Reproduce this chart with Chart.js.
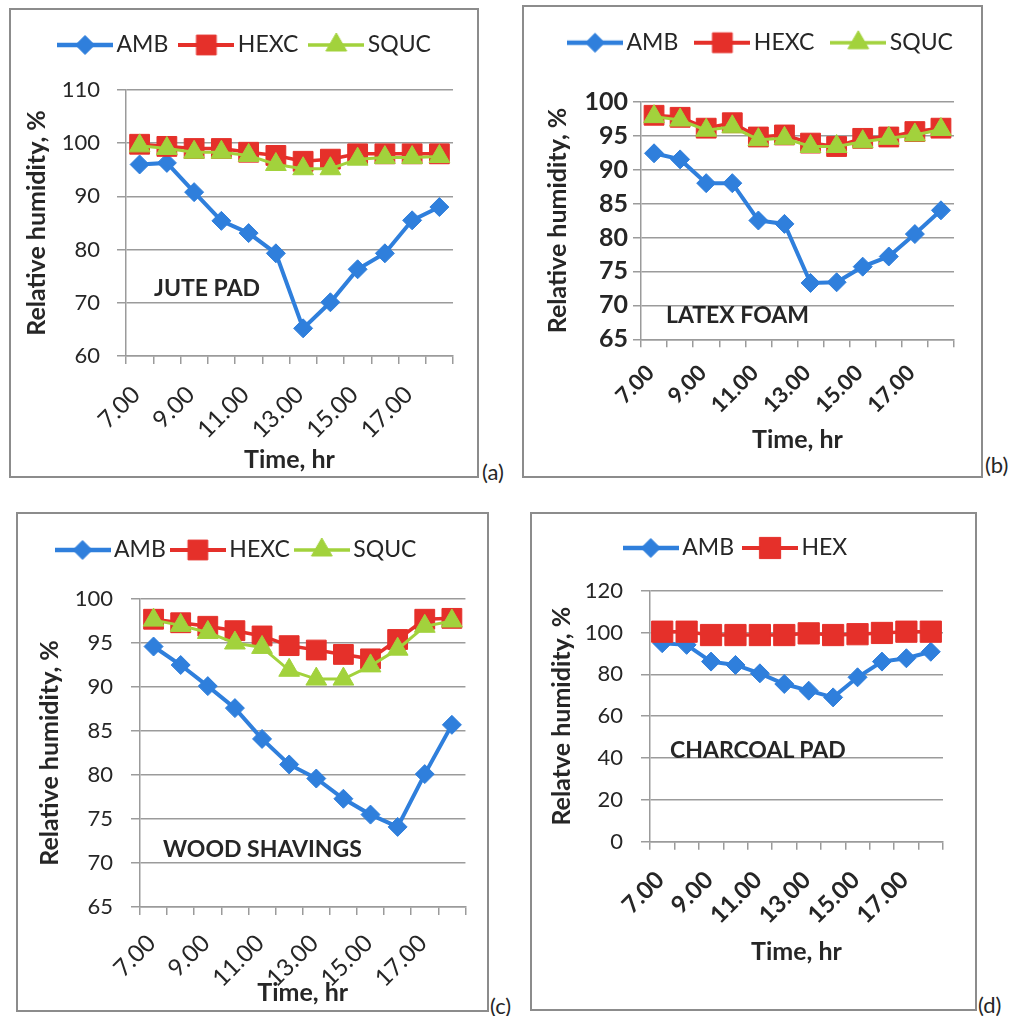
<!DOCTYPE html>
<html>
<head>
<meta charset="utf-8">
<script src="https://cdn.jsdelivr.net/npm/chart.js"></script>
<style>
  body { margin: 0; background: #fff; width: 1012px; height: 1016px; position: relative; overflow: hidden; font-family: Lato, sans-serif; color: #262626; }
  .panel { position: absolute; border: 2px solid #8c8c8c; box-sizing: border-box; background: #fff; }
  .panel canvas { position: absolute; left: 0; top: 0; }
  .note { position: absolute; font-weight: bold; white-space: nowrap; line-height: 1; }
  .tag { position: absolute; font-size: 22px; line-height: 1; white-space: nowrap; }
</style>
</head>
<body>
<script>
Chart.defaults.font.family = 'Lato, "Open Sans", sans-serif'
Chart.defaults.color = '#262626'

const hours = ['7.00', '8.00', '9.00', '10.00', '11.00', '12.00', '13.00', '14.00', '15.00', '16.00', '17.00', '18.00']

// (a) jute pad
const juteAMB = [96, 96.3, 90.8, 85.4, 83.1, 79.3, 65.2, 70.1, 76.3, 79.3, 85.5, 88]
const juteHEXC = [99.8, 99.4, 99, 99, 98.3, 97.7, 96.6, 97, 98, 98, 98, 98]
const juteSQUC = [99.5, 99, 98.3, 98.3, 97.7, 96, 95.2, 95.2, 97, 97.3, 97.3, 97.5]
const juteY = [60, 110, 10]

// (b) latex foam
const latexAMB = [92.4, 91.5, 88, 88, 82.5, 82, 73.3, 73.4, 75.7, 77.2, 80.5, 84]
const latexHEXC = [98, 97.7, 96.1, 96.9, 94.8, 95.1, 93.9, 93.4, 94.6, 94.8, 95.6, 96.1]
const latexSQUC = [97.8, 97.3, 95.8, 96.3, 94.4, 94.6, 93.4, 93.4, 94.1, 94.6, 95.1, 95.9]
const latexY = [65, 100, 5]

// (c) wood shavings
const woodAMB = [94.6, 92.5, 90.1, 87.6, 84.1, 81.2, 79.6, 77.3, 75.5, 74.1, 80.1, 85.7]
const woodHEXC = [97.7, 97.3, 96.9, 96.4, 95.8, 94.7, 94.2, 93.7, 93.2, 95.4, 97.7, 97.8]
const woodSQUC = [97.6, 97, 96.2, 95, 94.5, 91.9, 90.9, 90.9, 92.4, 94.3, 96.9, 97.5]
const woodY = [65, 100, 5]

// (d) charcoal pad
const charcoalAMB = [94.9, 94.1, 86.1, 84.5, 80.5, 75.4, 72.2, 69, 78.6, 86.1, 87.7, 90.8]
const charcoalHEX = [100.4, 100.4, 98.8, 98.8, 98.8, 98.8, 99.6, 98.8, 99.2, 99.8, 100.4, 100.4]
const charcoalY = [0, 120, 20]

const gridColor = '#9b9b9b'
const textColor = '#262626'
const legendFont = 23

const seriesStyle = {
    AMB: { color: '#2f7fdc', point: 'rectRot', radius: 9.5, line: 4, order: 3 },
    HEXC: { color: '#e5302a', point: 'rect', radius: 14, line: 3.5, order: 2 },
    HEX: { color: '#e5302a', point: 'rect', radius: 15, line: 3.5, order: 2 },
    SQUC: { color: '#a2d23c', point: 'triangle', radius: 12, line: 3, order: 1 }
}

// line + marker picture used as the legend symbol
function legendIcon(style) {
    const c = document.createElement('canvas')
    c.width = 56
    c.height = 30
    const ctx = c.getContext('2d')
    ctx.strokeStyle = style.color
    ctx.lineWidth = style.line + 0.5
    ctx.beginPath()
    ctx.moveTo(0, 15)
    ctx.lineTo(56, 15)
    ctx.stroke()
    ctx.fillStyle = style.color
    ctx.lineWidth = 1
    Chart.helpers.drawPoint(ctx, { pointStyle: style.point, radius: style.radius, borderWidth: 1, rotation: 0 }, 28, 15)
    return c
}

// moves the legend box after layout (horizontal shift, vertical middle of the row)
const legendPlace = {
    id: 'legendPlace',
    afterLayout(chart, args, opts) {
        const lg = chart.legend
        const h = lg.bottom - lg.top
        const top = opts.midY - lg.options.labels.padding - legendFont / 2
        lg.left += opts.dx
        lg.right += opts.dx
        lg.top = top
        lg.bottom = top + h
    }
}

const panels = [
    {
        tag: '(a)', note: 'JUTE PAD', yTitle: 'Relative humidity, %', range: juteY,
        series: [['AMB', juteAMB], ['HEXC', juteHEXC], ['SQUC', juteSQUC]],
        box: [9, 8, 470, 470], yW: 115, xH: 120, padR: 18, areaTop: 80,
        legend: { pad: 18, dx: 13, midY: 35 },
        yTick: { size: 22, weight: 'normal', pad: 17, len: 9 },
        xTick: { size: 24, weight: 'normal', pad: 16.5, shift: -3.5 },
        yTitlePad: 11, xTitlePad: 1,
        notePos: [154, 287, 23], tagPos: [482, 461]
    },
    {
        tag: '(b)', note: 'LATEX FOAM', yTitle: 'Relative humidity, %', range: latexY,
        series: [['AMB', latexAMB], ['HEXC', latexHEXC], ['SQUC', latexSQUC]],
        box: [522, 5, 461, 473], yW: 117, xH: 136.7, padR: 27, areaTop: 94.7,
        legend: { pad: 24, dx: 25, midY: 35.7 },
        yTick: { size: 25, weight: 'bold', pad: 5, len: 8 },
        xTick: { size: 22, weight: 'bold', pad: 12.5, shift: -3.5 },
        yTitlePad: 19, xTitlePad: 21,
        notePos: [666, 314, 23], tagPos: [985, 454]
    },
    {
        tag: '(c)', note: 'WOOD SHAVINGS', yTitle: 'Relative humidity, %', range: woodY,
        series: [['AMB', woodAMB], ['HEXC', woodHEXC], ['SQUC', woodSQUC]],
        box: [16, 512, 473, 500], yW: 122, xH: 103, padR: 18, areaTop: 85,
        legend: { pad: 12, dx: -4, midY: 36 },
        yTick: { size: 22, weight: 'normal', pad: 18, len: 9 },
        xTick: { size: 24, weight: 'normal', pad: 14, shift: -2 },
        yTitlePad: 17, xTitlePad: 2,
        notePos: [163, 848, 23], tagPos: [490, 995]
    },
    {
        tag: '(d)', note: 'CHARCOAL PAD', yTitle: 'Relatve humidity, %', range: charcoalY,
        series: [['AMB', charcoalAMB], ['HEX', charcoalHEX]],
        box: [530, 512, 447, 499], yW: 118, xH: 167.3, padR: 32, areaTop: 76.7,
        legend: { pad: 16, dx: 1.5, midY: 34 },
        yTick: { size: 22, weight: 'normal', pad: 18, len: 9 },
        xTick: { size: 24, weight: 'bold', pad: 16, shift: -2 },
        yTitlePad: 15, xTitlePad: 42,
        notePos: [670, 749, 23], tagPos: [978, 994]
    }
]

function build(p) {
    const wrap = document.createElement('div')
    wrap.className = 'panel'
    wrap.style.left = p.box[0] + 'px'
    wrap.style.top = p.box[1] + 'px'
    wrap.style.width = p.box[2] + 'px'
    wrap.style.height = p.box[3] + 'px'
    const canvas = document.createElement('canvas')
    canvas.width = p.box[2] - 4
    canvas.height = p.box[3] - 4
    wrap.appendChild(canvas)
    document.body.appendChild(wrap)

    const icons = p.series.map(s => legendIcon(seriesStyle[s[0]]))

    new Chart(canvas, {
        type: 'line',
        data: {
            labels: hours,
            datasets: p.series.map(([name, values]) => {
                const st = seriesStyle[name]
                return {
                    label: name,
                    data: values,
                    order: st.order,
                    borderColor: st.color,
                    backgroundColor: st.color,
                    borderWidth: st.line,
                    pointStyle: st.point,
                    pointRadius: st.radius,
                    pointBorderWidth: 1,
                    pointBackgroundColor: st.color,
                    pointBorderColor: st.color,
                    tension: 0,
                    fill: false
                }
            })
        },
        options: {
            responsive: false,
            animation: false,
            events: [],
            layout: {
                padding: { left: 0, right: p.padR, bottom: 0, top: p.areaTop - (legendFont + p.legend.pad + 10) }
            },
            plugins: {
                tooltip: { enabled: false },
                legendPlace: { dx: p.legend.dx, midY: p.legend.midY },
                legend: {
                    position: 'top',
                    labels: {
                        usePointStyle: true,
                        pointStyleWidth: 40,
                        padding: p.legend.pad,
                        color: textColor,
                        font: { size: legendFont },
                        sort: (a, b) => a.datasetIndex - b.datasetIndex,
                        generateLabels(chart) {
                            const items = Chart.defaults.plugins.legend.labels.generateLabels(chart)
                            items.forEach(it => { it.pointStyle = icons[it.datasetIndex] })
                            return items
                        }
                    }
                }
            },
            scales: {
                x: {
                    offset: true,
                    grid: { offset: true, drawOnChartArea: false, drawTicks: true, tickLength: 8, color: gridColor, lineWidth: 1.5 },
                    border: { color: gridColor, width: 1.5 },
                    ticks: {
                        autoSkip: false,
                        maxRotation: 45,
                        minRotation: 45,
                        padding: p.xTick.pad,
                        labelOffset: p.xTick.shift,
                        color: textColor,
                        font: { size: p.xTick.size, weight: p.xTick.weight },
                        callback(value, index) {
                            return index % 2 === 0 ? this.getLabelForValue(value) : ''
                        }
                    },
                    title: {
                        display: true,
                        text: 'Time, hr',
                        color: textColor,
                        font: { size: 25, weight: 'bold', lineHeight: 1.2 },
                        padding: { top: 0, bottom: p.xTitlePad }
                    },
                    afterFit(scale) { scale.height = p.xH }
                },
                y: {
                    min: p.range[0],
                    max: p.range[1],
                    grid: { color: gridColor, lineWidth: 1.5, tickLength: p.yTick.len },
                    border: { color: gridColor, width: 1.5 },
                    ticks: {
                        stepSize: p.range[2],
                        autoSkip: false,
                        padding: p.yTick.pad,
                        color: textColor,
                        font: { size: p.yTick.size, weight: p.yTick.weight }
                    },
                    title: {
                        display: true,
                        text: p.yTitle,
                        color: textColor,
                        font: { size: 25, weight: 'bold', lineHeight: 1.2 },
                        padding: { top: p.yTitlePad, bottom: 0 }
                    },
                    afterFit(scale) { scale.width = p.yW }
                }
            }
        },
        plugins: [legendPlace]
    })

    const note = document.createElement('div')
    note.className = 'note'
    note.textContent = p.note
    note.style.fontSize = p.notePos[2] + 'px'
    note.style.left = p.notePos[0] + 'px'
    note.style.top = (p.notePos[1] - p.notePos[2] / 2) + 'px'
    document.body.appendChild(note)

    const tag = document.createElement('div')
    tag.className = 'tag'
    tag.textContent = p.tag
    tag.style.left = p.tagPos[0] + 'px'
    tag.style.top = p.tagPos[1] + 'px'
    document.body.appendChild(tag)
}

panels.forEach(build)
</script>
</body>
</html>
